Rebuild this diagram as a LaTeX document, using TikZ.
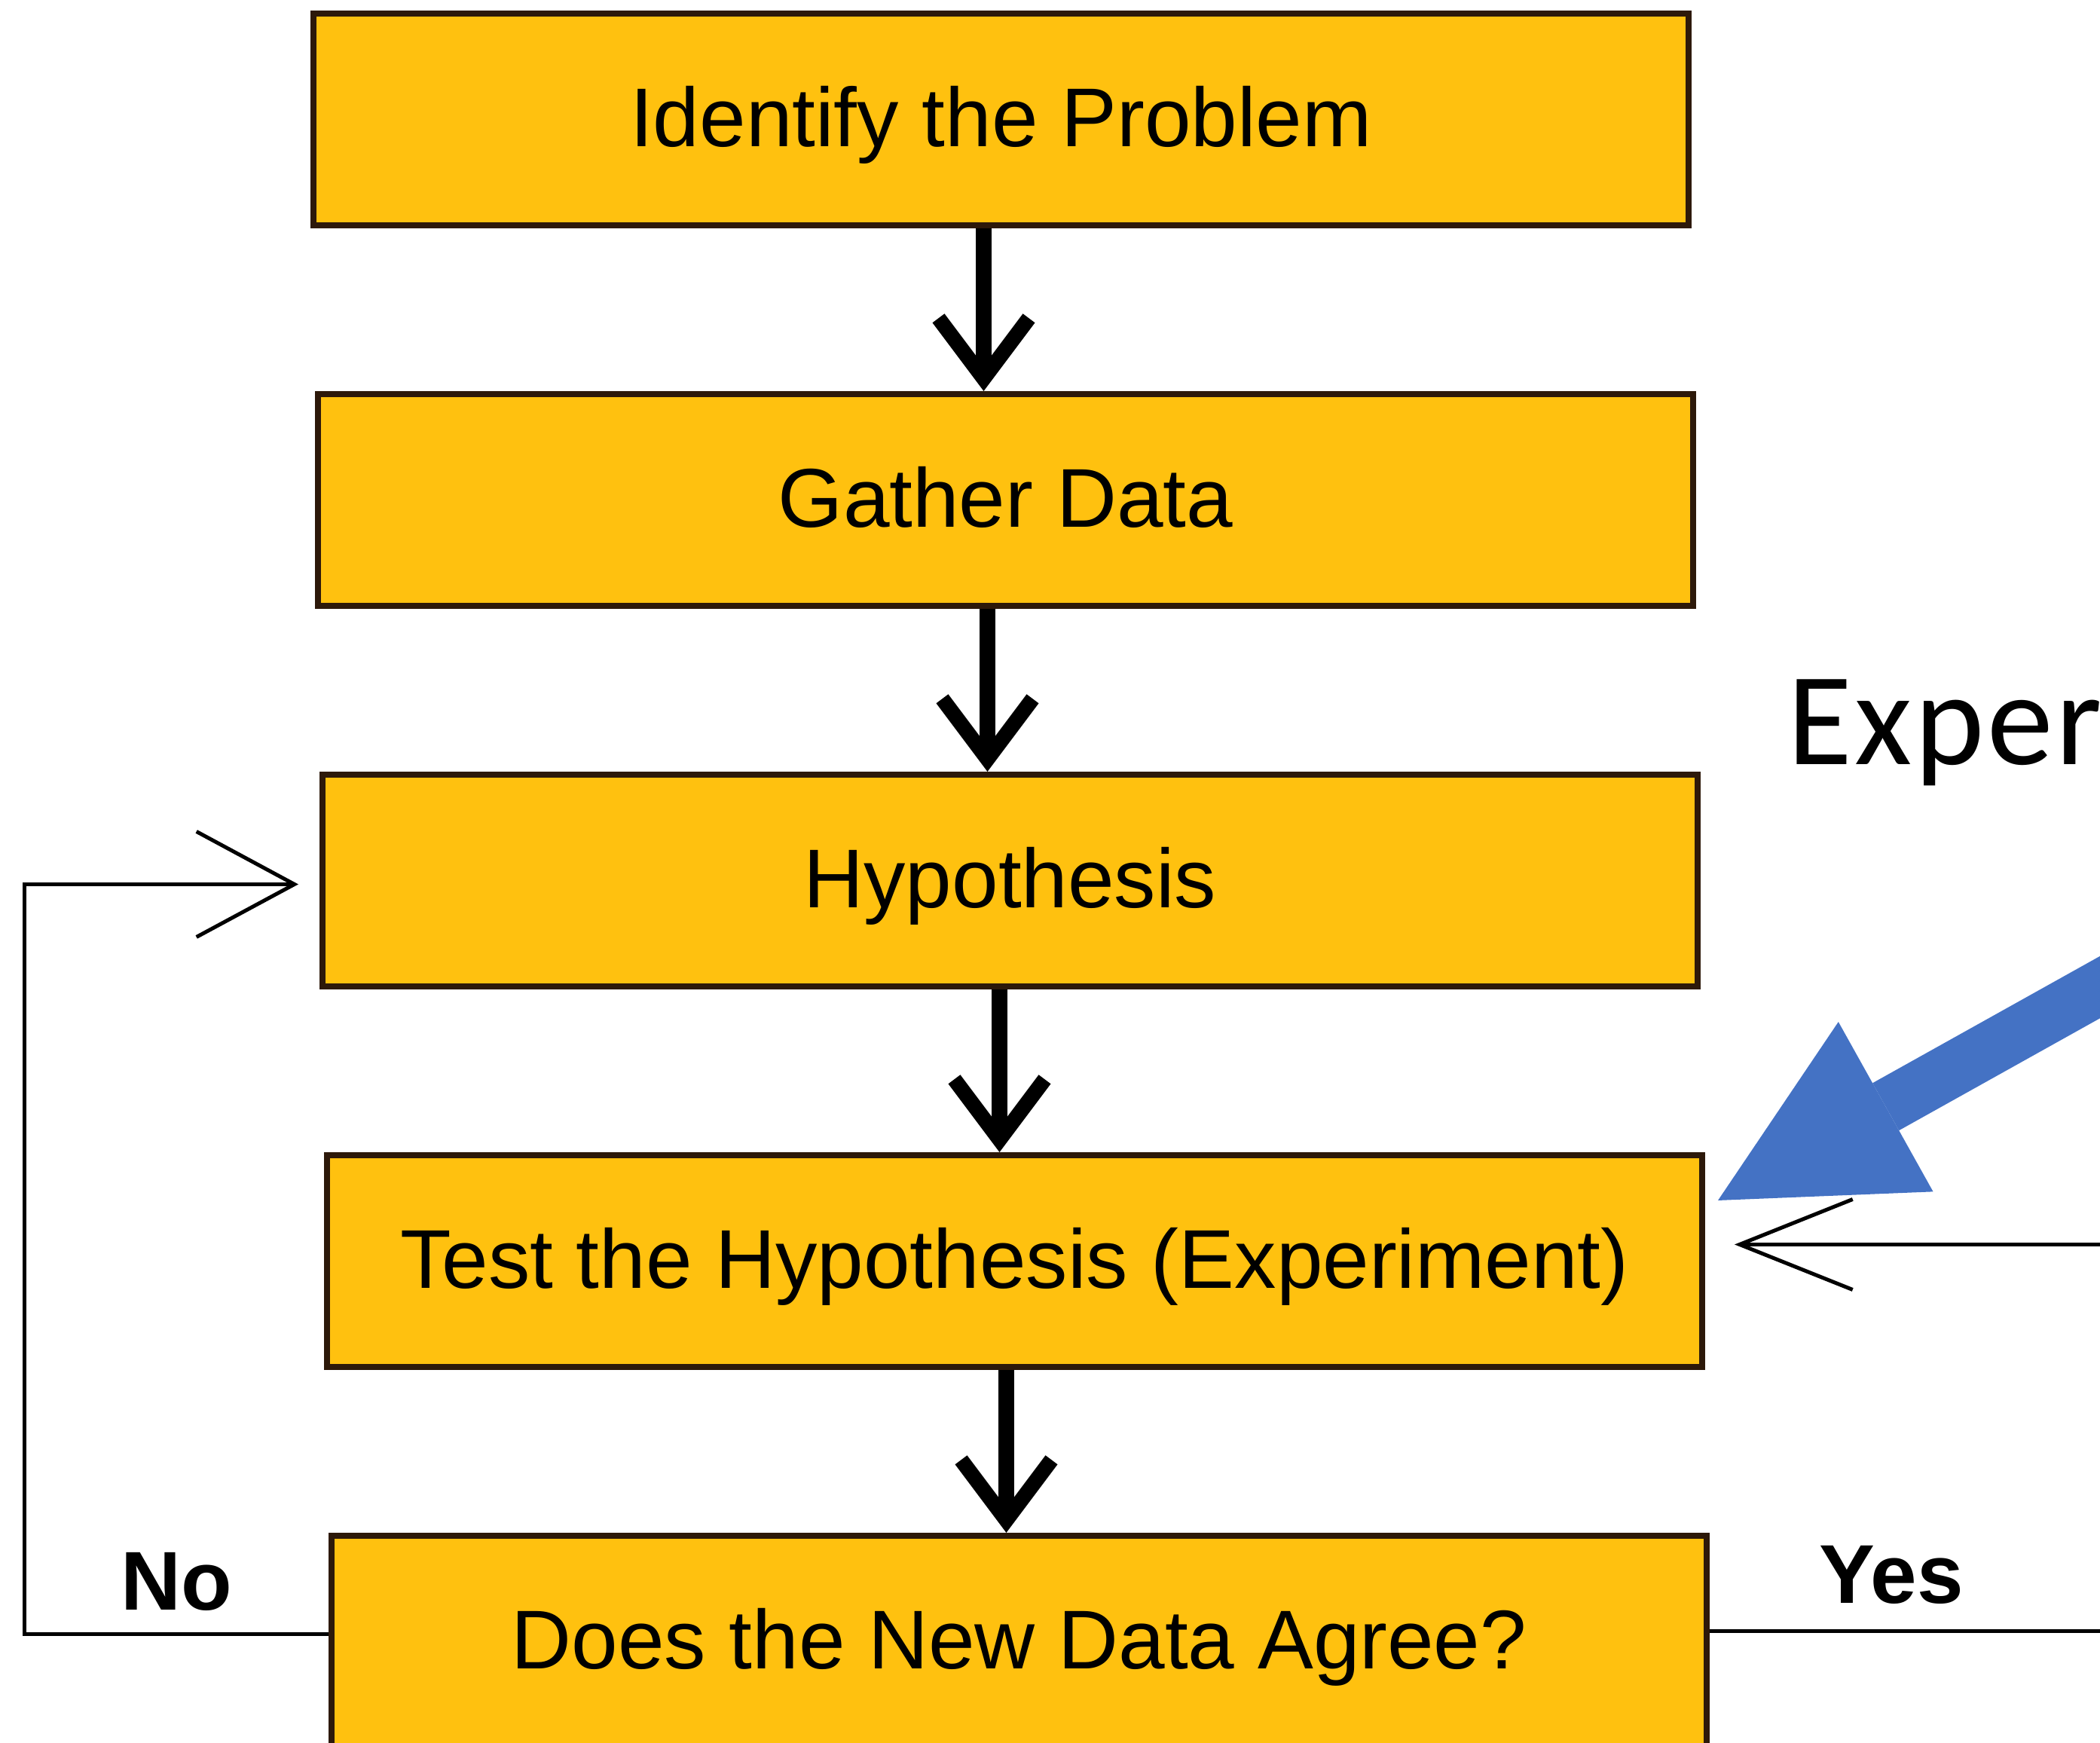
\documentclass[tikz,border=0pt]{standalone}
\usepackage{fontspec}
\setmainfont{Liberation Sans}
\newfontfamily\calloutfont[LetterSpace=2]{Carlito}
\usetikzlibrary{arrows.meta, positioning}
\definecolor{boxfill}{RGB}{255,193,15}
\definecolor{boxline}{RGB}{45,25,10}
\definecolor{calloutblue}{RGB}{68,114,196}

\begin{document}
\begin{tikzpicture}[
      stepbox/.style={rectangle, draw=boxline, fill=boxfill, line width=0.8mm,
        minimum width=182.5mm, minimum height=28.1mm, inner sep=0pt,
        text height=22.5pt, text depth=2pt,
        font=\fontsize{31.5}{38}\selectfont},
      flow/.style={-{Straight Barb[length=8mm, width=12mm, line width=2mm]}, line width=2.1mm},
      loopline/.style={line width=0.5mm},
      lbl/.style={font=\fontsize{31.5}{38}\selectfont\bfseries, inner sep=0pt},
      node distance=21.6mm
    ]
    \useasboundingbox (0,0) rectangle (27.87,23.13);
    \clip (0,0) rectangle (27.87,23.13);
    \node[stepbox] (identify) at (13.285,21.545) {Identify the Problem};
    \node[stepbox, below=of identify, xshift=0.6mm] (gather) {Gather Data};
    \node[stepbox, below=of gather, xshift=0.6mm] (hypo) {Hypothesis};
    \node[stepbox, below=of hypo, xshift=0.6mm] (test) {Test the Hypothesis (Experiment)};
    \node[stepbox, below=of test, xshift=0.6mm] (agree) {Does the New Data Agree?};
    % straight down arrows
    \coordinate (f1) at ([xshift=-2.3mm]identify.south);
    \coordinate (f2) at ([xshift=-2.4mm]gather.south);
    \coordinate (f3) at ([xshift=-1.4mm]hypo.south);
    \coordinate (f4) at ([xshift=-1.1mm]test.south);
    \draw[flow] (f1) -- (f1 |- gather.north);
    \draw[flow] (f2) -- (f2 |- hypo.north);
    \draw[flow] (f3) -- (f3 |- test.north);
    \draw[flow] (f4) -- (f4 |- agree.north);
    % loops
    \coordinate (leftedge) at (0.32,0);
    \coordinate (rightedge) at (28.3,0);
    \coordinate (noout) at ([yshift=1mm]agree.west);
    \coordinate (yesout) at ([yshift=1.4mm]agree.east);
    \coordinate (backin) at ([xshift=3.9mm, yshift=2.2mm]test.east);
    \draw[loopline, -{Straight Barb[length=13mm, width=14mm, line width=0.5mm]}]
      (noout) -- node[lbl, above=2.8mm] {No} (noout -| leftedge)
      |- ([xshift=-2.8mm, yshift=-0.5mm]hypo.west);
    \draw[loopline] (yesout) -- node[lbl, above=3.3mm, pos=0.43] {Yes} (yesout -| rightedge);
    \draw[loopline, -{Straight Barb[length=15mm, width=12mm, line width=0.5mm]}]
      (backin -| rightedge) -- (backin);
    % callout
    \node[anchor=base west, inner sep=0pt, font=\calloutfont\fontsize{50}{60}\selectfont]
      (exptext) at (23.72,12.98) {Exper};
    \coordinate (expstart) at (29.0,10.66);
    \coordinate (exptip) at (22.80,7.20);
    \draw[calloutblue, line width=7.2mm, -{Triangle[length=25.5mm, width=25.8mm, line width=0pt]}]
      (expstart) -- (exptip);
\end{tikzpicture}
\end{document}
